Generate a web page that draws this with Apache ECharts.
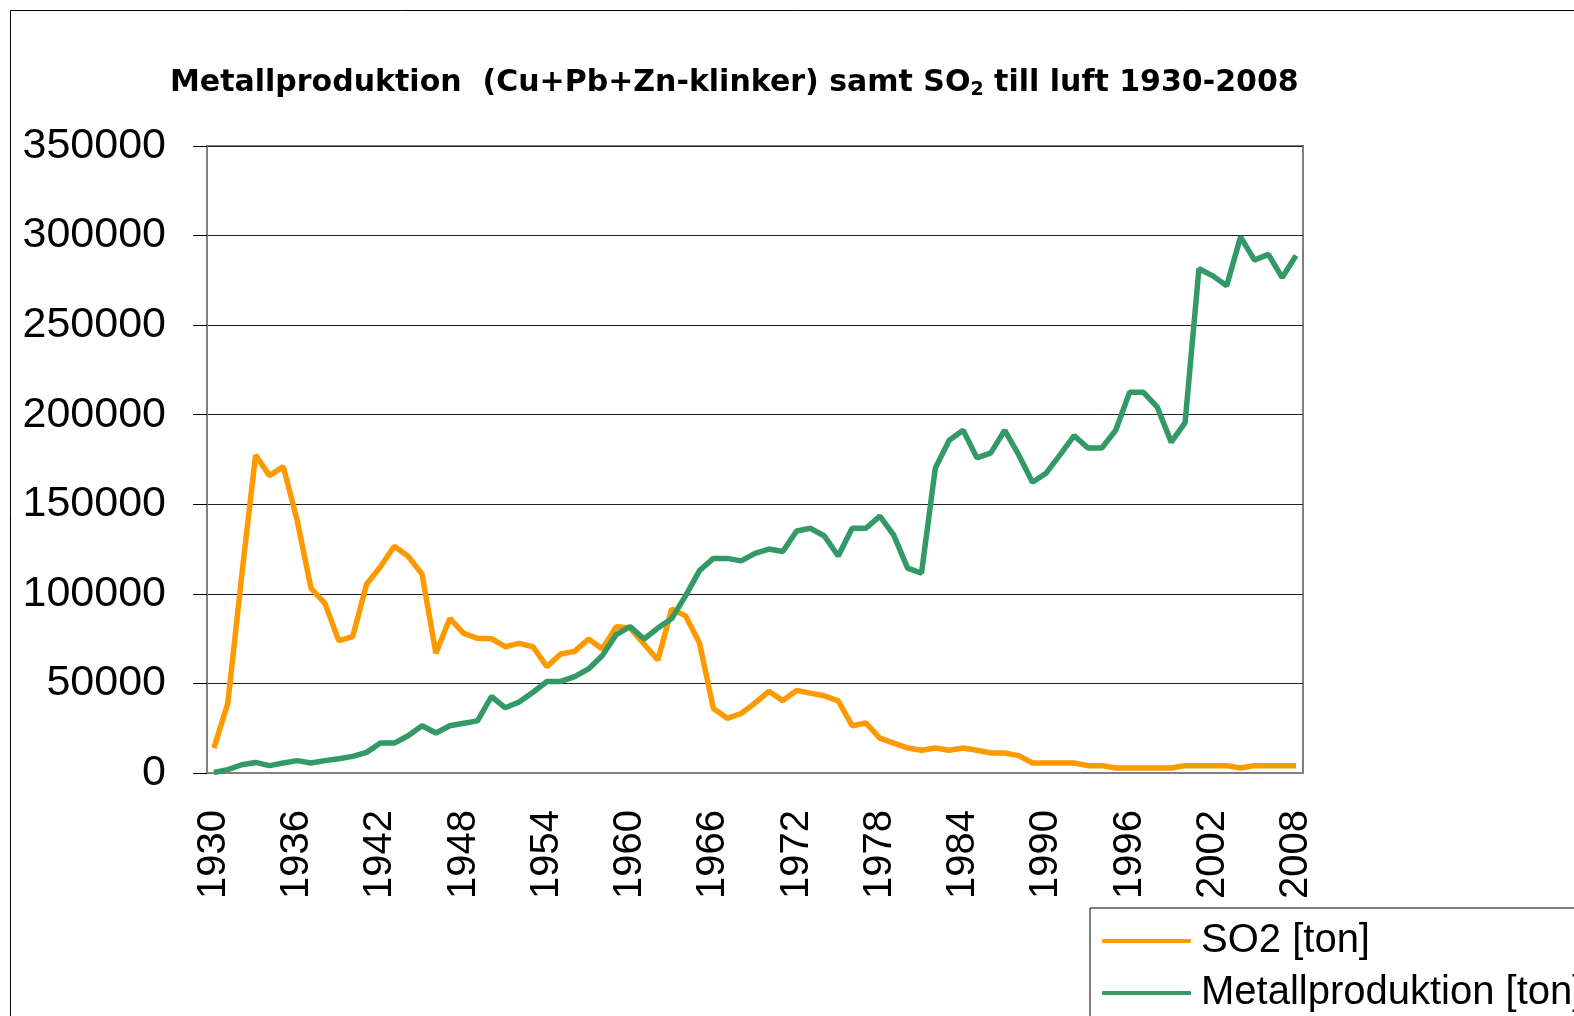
<!DOCTYPE html>
<html>
<head>
<meta charset="utf-8">
<style>
  html, body { margin: 0; padding: 0; background: #fff; }
  #chart { width: 1574px; height: 1016px; }
</style>
<script src="https://cdn.jsdelivr.net/npm/echarts@6/dist/echarts.min.js"></script>
</head>
<body>
<div id="chart"></div>
<script>
// Years 1930-2008 (category axis)
const years = [
  '1930', '1931', '1932', '1933', '1934', '1935', '1936', '1937', '1938', '1939',
  '1940', '1941', '1942', '1943', '1944', '1945', '1946', '1947', '1948', '1949',
  '1950', '1951', '1952', '1953', '1954', '1955', '1956', '1957', '1958', '1959',
  '1960', '1961', '1962', '1963', '1964', '1965', '1966', '1967', '1968', '1969',
  '1970', '1971', '1972', '1973', '1974', '1975', '1976', '1977', '1978', '1979',
  '1980', '1981', '1982', '1983', '1984', '1985', '1986', '1987', '1988', '1989',
  '1990', '1991', '1992', '1993', '1994', '1995', '1996', '1997', '1998', '1999',
  '2000', '2001', '2002', '2003', '2004', '2005', '2006', '2007', '2008',
];

// SO2 till luft [ton]
const so2 = [
  13900, 39000, 110000, 177500, 166000, 171000, 141000, 103000, 94700, 73900,
  76100, 105400, 115100, 126600, 121000, 111000, 66800, 86300, 77900, 75200,
  75000, 70500, 72400, 70500, 59400, 66400, 67900, 74800, 69200, 81700,
  80900, 72000, 63100, 91500, 87700, 72500, 36000, 30500, 33200, 39000,
  45600, 40400, 46100, 44600, 43100, 40300, 26400, 27900, 19500, 16700,
  14000, 12700, 14000, 12700, 14000, 12700, 11200, 11200, 9700, 5600,
  5600, 5600, 5600, 4100, 4100, 2800, 2800, 2800, 2800, 2800,
  4100, 4100, 4100, 4100, 2800, 4100, 4100, 4100, 4100,
];

// Metallproduktion (Cu+Pb+Zn-klinker) [ton]
const metal = [
  300, 1900, 4600, 5900, 4100, 5600, 6900, 5600, 6900, 8000,
  9300, 11500, 16700, 16700, 20800, 26400, 22300, 26400, 27800, 29100,
  42700, 36400, 39600, 45100, 51100, 51100, 53800, 58100, 65600, 77300,
  81700, 74800, 80900, 86200, 99000, 113000, 119800, 119800, 118400, 122600,
  125000, 123600, 135100, 136600, 132300, 121100, 136600, 136600, 143400, 132800,
  114400, 111600, 170300, 185700, 191300, 175900, 178700, 191300, 177700, 162300,
  167500, 177700, 188300, 181400, 181400, 191300, 212500, 212500, 204200, 184700,
  195600, 281500, 277500, 272000, 299300, 286300, 289500, 276600, 288900,
];

const seriesNames = ['SO2 [ton]', 'Metallproduktion [ton]'];
const COLORS = ['#FF9900', '#339966'];

const chart = echarts.init(document.getElementById('chart'));

chart.setOption({
  backgroundColor: '#FFFFFF',
  animation: false,
  textStyle: { fontFamily: '"Liberation Sans", Arial, sans-serif' },
  title: {
    text: '{b|Metallproduktion  (Cu+Pb+Zn-klinker) samt SO}{s|2}{b| till luft 1930-2008}',
    left: 165,
    top: 61,
    textStyle: {
      rich: {
        b: { fontFamily: '"DejaVu Sans"', fontSize: 30, fontWeight: 'bold', color: '#000', lineHeight: 34 },
        s: { fontFamily: '"DejaVu Sans"', fontSize: 19, fontWeight: 'bold', color: '#000', lineHeight: 34, padding: [14, 0, 0, 0] },
      },
    },
  },
  graphic: [
    {
      type: 'rect',
      shape: { x: 10.5, y: 10.5, width: 1700, height: 1200 },
      style: { fill: 'none', stroke: '#000', lineWidth: 1 },
      silent: true,
    },
  ],
  legend: {
    orient: 'vertical',
    left: 1090,
    top: 908,
    height: 110,
    data: seriesNames,
    icon: 'roundRect',
    borderColor: '#000',
    borderWidth: 1,
    borderRadius: 0,
    backgroundColor: '#fff',
    padding: [12, 12, 9, 12],
    itemWidth: 89,
    itemHeight: 4,
    itemGap: 10,
    textStyle: { fontSize: 40, color: '#000', lineHeight: 42, padding: [0, 0, 0, 5] },
  },
  grid: { left: 207, top: 146, right: 271, bottom: 243, show: true, borderColor: '#808080', borderWidth: 2, containLabel: false },
  xAxis: {
    type: 'category',
    data: years,
    boundaryGap: true,
    axisLine: { lineStyle: { color: '#808080', width: 2 } },
    axisTick: { interval: 0, length: 13, lineStyle: { color: '#000', width: 1 } },
    axisLabel: { interval: 5, rotate: 90, fontSize: 40, color: '#000', margin: 37 },
    splitLine: { show: false },
  },
  yAxis: {
    type: 'value',
    min: 0,
    max: 350000,
    interval: 50000,
    axisLine: { show: true, lineStyle: { color: '#808080', width: 2 } },
    axisTick: { show: true, length: 14, lineStyle: { color: '#000', width: 1 } },
    axisLabel: { fontSize: 43, color: '#000', margin: 41, formatter: (v) => String(v) },
    splitLine: { lineStyle: { color: '#222', width: 1 } },
  },
  series: [
    {
      name: seriesNames[0],
      type: 'line',
      data: so2,
      symbol: 'none',
      lineStyle: { width: 5.5, color: COLORS[0] },
      itemStyle: { color: COLORS[0] },
    },
    {
      name: seriesNames[1],
      type: 'line',
      data: metal,
      symbol: 'none',
      lineStyle: { width: 5.5, color: COLORS[1] },
      itemStyle: { color: COLORS[1] },
    },
  ],
});
</script>
</body>
</html>
